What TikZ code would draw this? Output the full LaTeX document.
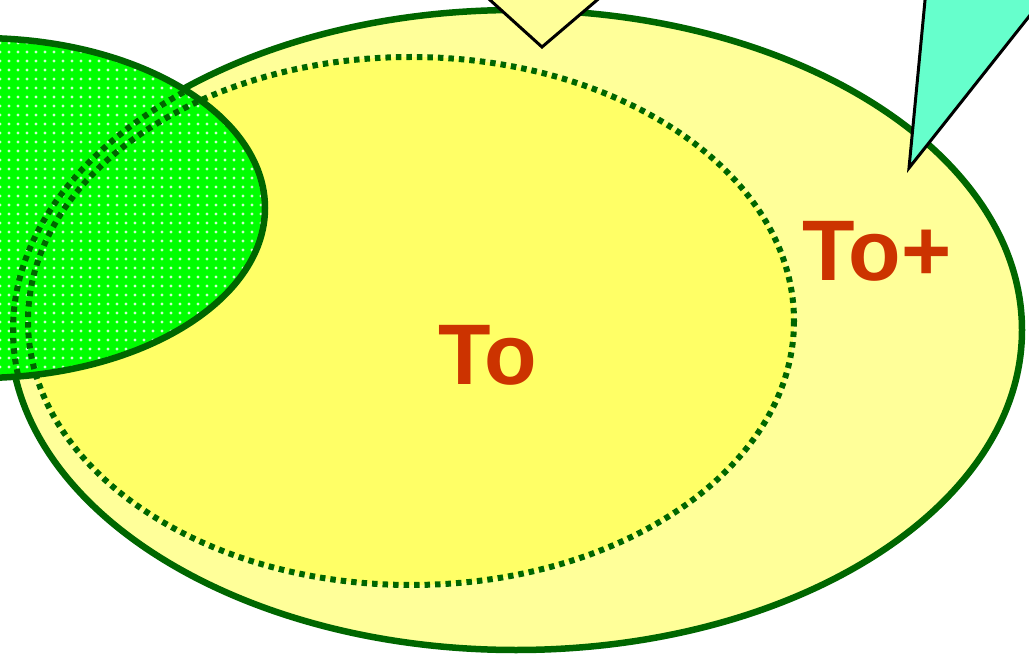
\documentclass[tikz,border=0pt]{standalone}
\usepackage{fontspec}
\setmainfont{Liberation Sans}
\usetikzlibrary{patterns.meta}
\definecolor{outery}{HTML}{FFFF99}
\definecolor{innery}{HTML}{FFFF66}
\definecolor{dgreen}{HTML}{006600}
\definecolor{lgreen}{HTML}{00FF00}
\definecolor{cyanc}{HTML}{66FFCC}
\definecolor{txtc}{HTML}{CC3300}
\begin{document}
\begin{tikzpicture}[x=1pt,y=-1pt,
  solidline/.style={draw=dgreen,line width=6.5pt},
  dotline/.style={draw=dgreen,line width=6pt,dash pattern=on 5.5pt off 5pt},
  callout/.style={draw=black,line width=3pt,line join=miter},
  label/.style={font=\fontsize{86}{86}\selectfont\bfseries,text=txtc,inner sep=0pt}]
\useasboundingbox (0,0) rectangle (1029,655);
\clip (0,0) rectangle (1029,655);
% outer ellipse
\fill[outery] (516,330) ellipse [x radius=506,y radius=320];
\draw[solidline] (516,330) ellipse [x radius=506,y radius=320];
% inner dotted ellipse
\fill[innery] (411,321) ellipse [x radius=383,y radius=264];
\draw[dotline] (411,321) ellipse [x radius=383,y radius=264];
% green ellipse
\fill[lgreen] (-20,208) ellipse [x radius=285,y radius=170];
\fill[pattern={Dots[distance=9pt,radius=1.6pt]},pattern color=white!80!lgreen] (-20,208) ellipse [x radius=285,y radius=170];
\begin{scope}
  \clip (-20,208) ellipse [x radius=285,y radius=170];
  \draw[dotline] (516,330) ellipse [x radius=503,y radius=317];
  \draw[dotline] (411,321) ellipse [x radius=383,y radius=264];
\end{scope}
\draw[solidline] (-20,208) ellipse [x radius=285,y radius=170];
% callouts
\filldraw[callout,fill=outery] (484.5,-5) -- (542,47) -- (603,-5);
\filldraw[callout,fill=cyanc] (926,-10) -- (909,168) -- (1050,-10);
% labels
\node[label] (to) at (488,355) {To};
\node[label] (toplus) at (877,251) {To+};
\end{tikzpicture}
\end{document}
